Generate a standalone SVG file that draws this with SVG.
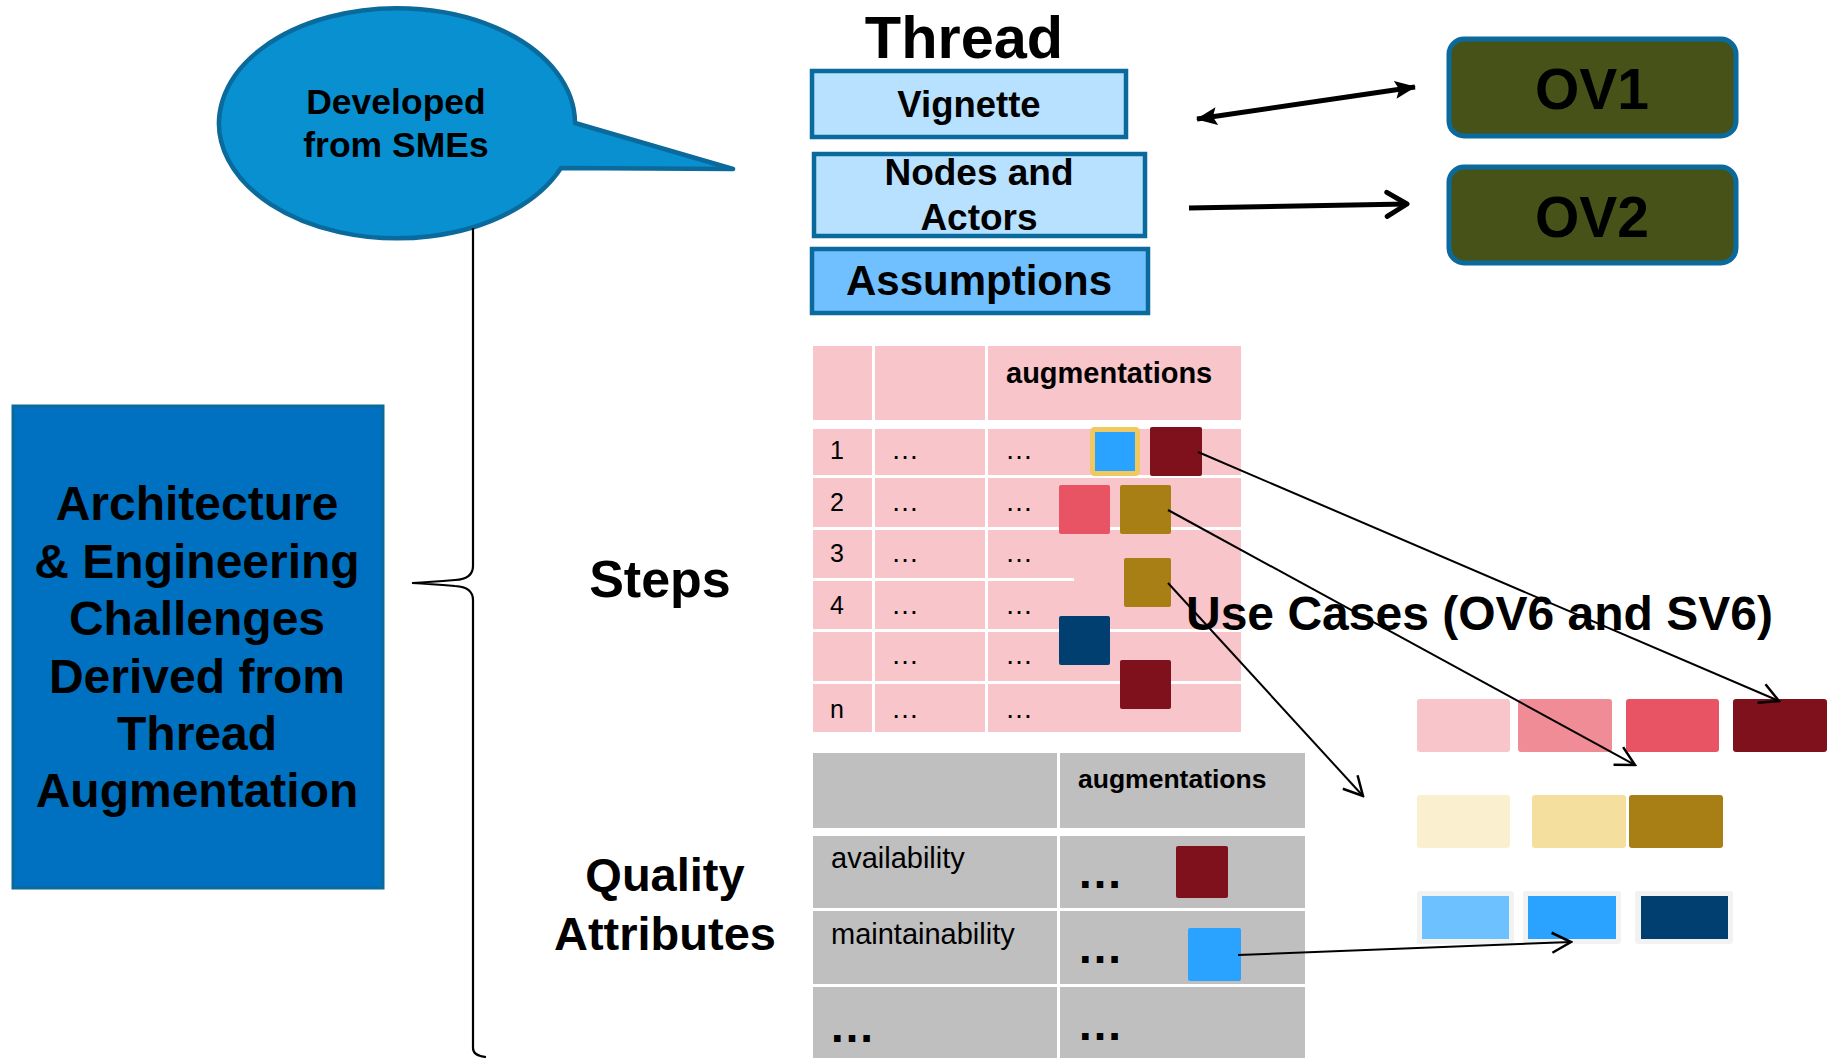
<svg xmlns="http://www.w3.org/2000/svg" width="1837" height="1058" viewBox="0 0 1837 1058">
<style>
text{font-family:"Liberation Sans",Arial,sans-serif;fill:#000}
.b{font-weight:bold}
.c{text-anchor:middle}
.tb{stroke:#0B6A9C;stroke-width:4.5}
.pink{fill:#F8C5CA}
.gray{fill:#BFBFBF}
.ln{fill:none;stroke:#000;stroke-width:2}
.thick{fill:none;stroke:#000;stroke-width:5}
.cell{font-size:25px}
.dots{font-size:28px}
.bigdots{font-size:46px;font-weight:bold}
</style>
<defs>
<marker id="open" viewBox="0 0 24 24" refX="22" refY="12" markerWidth="24" markerHeight="24" markerUnits="userSpaceOnUse" orient="auto">
<path d="M3,2 L22,12 L3,22" fill="none" stroke="#000" stroke-width="2.5"/>
</marker>
<marker id="solid" viewBox="0 0 22 20" refX="20" refY="10" markerWidth="22" markerHeight="20" markerUnits="userSpaceOnUse" orient="auto-start-reverse">
<path d="M0,1 L21,10 L0,19 L4,10 Z" fill="#000"/>
</marker>
<marker id="chev" viewBox="0 0 26 30" refX="23" refY="15" markerWidth="26" markerHeight="30" markerUnits="userSpaceOnUse" orient="auto">
<path d="M3,3 L23,15 L3,27" fill="none" stroke="#000" stroke-width="5" stroke-linecap="round" stroke-linejoin="round"/>
</marker>
</defs>
<rect width="1837" height="1058" fill="#fff"/>

<g id="bubble">
<path d="M575,123 L733,169 L561,168 A178,115 0 1 1 575,123 Z" fill="#0890D0" stroke="#0B6A9C" stroke-width="4.5" stroke-linejoin="round"/>
<text class="b c" x="396" y="114" font-size="35.5">Developed</text>
<text class="b c" x="396" y="157" font-size="35.5">from SMEs</text>
</g>

<g id="challenges">
<rect x="13" y="406" width="370" height="482" fill="#0070C0" stroke="#0B6A9C" stroke-width="3"/>
<text class="b c" x="197" y="520" font-size="48">Architecture</text>
<text class="b c" x="197" y="578" font-size="48">&amp; Engineering</text>
<text class="b c" x="197" y="635" font-size="48">Challenges</text>
<text class="b c" x="197" y="693" font-size="48">Derived from</text>
<text class="b c" x="197" y="750" font-size="48">Thread</text>
<text class="b c" x="197" y="807" font-size="48">Augmentation</text>
</g>

<g id="brace">
<path d="M473,228 V566 Q473,579 455,580 Q430,582 412,583 Q430,584 455,586 Q473,587 473,600 V1048 Q473,1056 486,1057" fill="none" stroke="#000" stroke-width="2.2"/>
</g>

<g id="thread">
<text class="b c" x="964" y="58" font-size="59.5">Thread</text>
</g>
<g id="vignette">
<rect class="tb" x="812" y="71" width="314" height="66" fill="#B8E0FF"/>
<text class="b c" x="969" y="117" font-size="36.5">Vignette</text>
</g>
<g id="nodes">
<rect class="tb" x="814" y="154" width="331" height="82" fill="#B8E0FF"/>
<text class="b c" x="979" y="185" font-size="37">Nodes and</text>
<text class="b c" x="979" y="230" font-size="37">Actors</text>
</g>
<g id="assumptions">
<rect class="tb" x="812" y="249" width="336" height="64" fill="#70C0FF"/>
<text class="b c" x="979" y="295" font-size="42">Assumptions</text>
</g>
<g id="ov1">
<rect x="1449" y="39" width="287" height="97" rx="15" fill="#465218" stroke="#0B6A9C" stroke-width="5"/>
<text class="b c" x="1592" y="109" font-size="57">OV1</text>
</g>
<g id="ov2">
<rect x="1449" y="167" width="287" height="96" rx="15" fill="#465218" stroke="#0B6A9C" stroke-width="5"/>
<text class="b c" x="1592" y="237" font-size="57">OV2</text>
</g>

<g id="steps-label"><text class="b c" x="660" y="597" font-size="52">Steps</text></g>
<g id="qa-label">
<text class="b c" x="665" y="891" font-size="47">Quality</text>
<text class="b c" x="665" y="950" font-size="47">Attributes</text>
</g>

<g id="steps-table">
<rect class="pink" x="813" y="346" width="59" height="74"/>
<rect class="pink" x="875" y="346" width="110" height="74"/>
<rect class="pink" x="988" y="346" width="253" height="74"/>
<rect class="pink" x="813" y="429" width="59" height="46"/>
<rect class="pink" x="875" y="429" width="110" height="46"/>
<rect class="pink" x="988" y="429" width="253" height="46"/>
<rect class="pink" x="813" y="478" width="59" height="49"/>
<rect class="pink" x="875" y="478" width="110" height="49"/>
<rect class="pink" x="988" y="478" width="253" height="49"/>
<rect class="pink" x="813" y="530" width="59" height="48"/>
<rect class="pink" x="875" y="530" width="110" height="48"/>
<rect class="pink" x="988" y="530" width="253" height="99"/>
<rect x="988" y="578" width="86" height="3" fill="#fff"/>
<rect class="pink" x="813" y="581" width="59" height="48"/>
<rect class="pink" x="875" y="581" width="110" height="48"/>
<rect class="pink" x="813" y="632" width="59" height="49"/>
<rect class="pink" x="875" y="632" width="110" height="49"/>
<rect class="pink" x="988" y="632" width="253" height="49"/>
<rect class="pink" x="813" y="684" width="59" height="48"/>
<rect class="pink" x="875" y="684" width="110" height="48"/>
<rect class="pink" x="988" y="684" width="253" height="48"/>
<text class="b" x="1006" y="383" font-size="29">augmentations</text>
<text class="cell c" x="837" y="459">1</text>
<text class="cell c" x="837" y="511">2</text>
<text class="cell c" x="837" y="562">3</text>
<text class="cell c" x="837" y="614">4</text>
<text class="cell c" x="837" y="718">n</text>
<g class="dots">
<text x="891" y="459">…</text><text x="1005" y="459">…</text>
<text x="891" y="511">…</text><text x="1005" y="511">…</text>
<text x="891" y="562">…</text><text x="1005" y="562">…</text>
<text x="891" y="614">…</text><text x="1005" y="614">…</text>
<text x="891" y="664">…</text><text x="1005" y="664">…</text>
<text x="891" y="718">…</text><text x="1005" y="718">…</text>
</g>
<rect x="1092.5" y="429.5" width="45" height="44" rx="2" fill="#29A3FF" stroke="#F0C860" stroke-width="5"/>
<rect x="1150" y="427" width="52" height="49" rx="2" fill="#7F111C"/>
<rect x="1059" y="485" width="51" height="49" rx="2" fill="#E85463"/>
<rect x="1120" y="485" width="51" height="49" rx="2" fill="#A87F14"/>
<rect x="1124" y="558" width="47" height="49" rx="2" fill="#A87F14"/>
<rect x="1059" y="616" width="51" height="49" rx="2" fill="#003F6F"/>
<rect x="1120" y="660" width="51" height="49" rx="2" fill="#7F111C"/>
</g>

<g id="qa-table">
<rect class="gray" x="813" y="753" width="244" height="75"/>
<rect class="gray" x="1060" y="753" width="245" height="75"/>
<rect class="gray" x="813" y="836" width="244" height="72"/>
<rect class="gray" x="1060" y="836" width="245" height="72"/>
<rect class="gray" x="813" y="911" width="244" height="73"/>
<rect class="gray" x="1060" y="911" width="245" height="73"/>
<rect class="gray" x="813" y="987" width="244" height="71"/>
<rect class="gray" x="1060" y="987" width="245" height="71"/>
<text class="b" x="1078" y="788" font-size="26.5">augmentations</text>
<text x="831" y="868" font-size="29">availability</text>
<text x="831" y="944" font-size="29">maintainability</text>
<text class="bigdots" x="1077" y="888">…</text>
<text class="bigdots" x="1077" y="963">…</text>
<text class="bigdots" x="1077" y="1040">…</text>
<text class="bigdots" x="829" y="1042">…</text>
<rect x="1176" y="846" width="52" height="52" rx="2" fill="#7F111C"/>
<rect x="1188" y="928" width="53" height="53" rx="2" fill="#29A3FF"/>
</g>

<g id="use-cases">
<text class="b" x="1186" y="630" font-size="48">Use Cases (OV6 and SV6)</text>
<rect x="1417" y="699" width="93" height="53" rx="3" fill="#F8C5CA"/>
<rect x="1518" y="699" width="94" height="53" rx="3" fill="#F08C96"/>
<rect x="1626" y="699" width="93" height="53" rx="3" fill="#E85463"/>
<rect x="1733" y="699" width="94" height="53" rx="3" fill="#7F111C"/>
<rect x="1417" y="795" width="93" height="53" rx="3" fill="#FAEFCF"/>
<rect x="1532" y="795" width="94" height="53" rx="3" fill="#F4DF9E"/>
<rect x="1629" y="795" width="94" height="53" rx="3" fill="#A87F14"/>
<rect x="1417" y="891" width="97" height="53" rx="3" fill="#F2F2F2"/>
<rect x="1422" y="896" width="87" height="43" fill="#6EC1FF"/>
<rect x="1523" y="891" width="98" height="53" rx="3" fill="#F2F2F2"/>
<rect x="1528" y="896" width="88" height="43" fill="#29A3FF"/>
<rect x="1635" y="891" width="98" height="53" rx="3" fill="#F2F2F2"/>
<rect x="1641" y="896" width="87" height="43" fill="#003F6F"/>
</g>

<g id="connectors">
<line class="thick" x1="1197" y1="119" x2="1415" y2="87" marker-start="url(#solid)" marker-end="url(#solid)"/>
<line class="thick" x1="1189" y1="208" x2="1407" y2="204" marker-end="url(#chev)"/>
<line class="ln" x1="1198" y1="452" x2="1779" y2="701" marker-end="url(#open)"/>
<line class="ln" x1="1168" y1="510" x2="1635" y2="765" marker-end="url(#open)"/>
<line class="ln" x1="1168" y1="583" x2="1363" y2="796" marker-end="url(#open)"/>
<line class="ln" x1="1238" y1="955" x2="1571" y2="942" marker-end="url(#open)"/>
</g>
</svg>
